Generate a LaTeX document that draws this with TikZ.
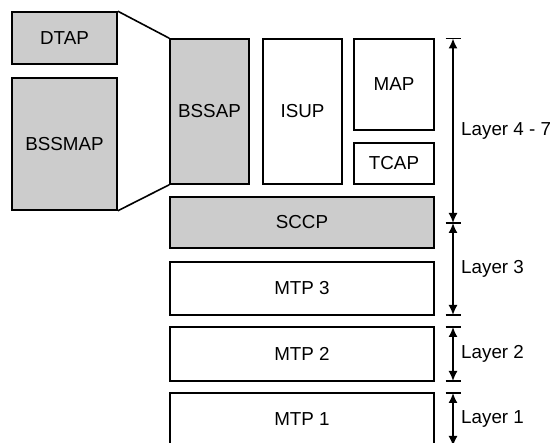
\documentclass[tikz,border=0pt]{standalone}
\usepackage{fontspec}
\setmainfont{Liberation Sans}
\usetikzlibrary{arrows.meta}
\definecolor{boxgray}{RGB}{204,204,204}
\begin{document}
\begin{tikzpicture}[x=1pt,y=-1pt,
  blk/.style={draw, line width=1.6pt, inner sep=0pt, anchor=center,
    font=\fontsize{18.8}{21}\selectfont},
  shaded/.style={blk, fill=boxgray},
  plain/.style={blk, fill=white},
  span/.style={line width=1.6pt,
    {Latex[length=10pt,width=9pt]}-{Latex[length=10pt,width=9pt]}},
  tickmark/.style={line width=1.6pt},
  link/.style={line width=1.6pt},
  lbl/.style={anchor=west, inner sep=0pt, font=\fontsize{18.8}{21}\selectfont}]
% page frame
\clip (0,0) rectangle (550,443);
\fill[white] (0,0) rectangle (550,443);

% BSSAP sub-protocols
\node[shaded, minimum width=105pt, minimum height=52pt]  (dtap)   at (64.5,38)   {DTAP};
\node[shaded, minimum width=105pt, minimum height=132pt] (bssmap) at (64.5,144)  {BSSMAP};

% upper layers
\node[shaded, minimum width=79pt, minimum height=145pt] (bssap) at (209.5,111.5) {BSSAP};
\node[plain,  minimum width=79pt, minimum height=145pt] (isup)  at (302.5,111.5) {ISUP};
\node[plain,  minimum width=80pt, minimum height=91pt]  (map)   at (394,84.5)    {MAP};
\node[plain,  minimum width=80pt, minimum height=41pt]  (tcap)  at (394,163.5)   {TCAP};

% lower layers
\node[shaded, minimum width=264pt, minimum height=51pt] (sccp) at (302,222.5) {SCCP};
\node[plain,  minimum width=264pt, minimum height=53pt] (mtp3) at (302,288.5) {MTP 3};
\node[plain,  minimum width=264pt, minimum height=54pt] (mtp2) at (302,354)   {MTP 2};
\node[plain,  minimum width=264pt, minimum height=53pt] (mtp1) at (302,419.5) {MTP 1};

% BSSAP expansion lines
\draw[link] (dtap.north east) -- (bssap.north west);
\draw[link] (bssmap.south east) -- (bssap.south west);

% layer boundaries
\coordinate (b0) at (453,38.5);
\coordinate (b1) at (453,223);
\coordinate (b2) at (453,315);
\coordinate (b3) at (453,327);
\coordinate (b4) at (453,381);
\coordinate (b5) at (453,393);
\coordinate (b6) at (453,446);
\foreach \b in {b0,b1,b2,b3,b4,b5,b6}
  \draw[tickmark] ([xshift=-7.5pt]\b) -- ([xshift=7.5pt]\b);

\draw[span] (b0) -- (b1);
\draw[span] (b1) -- (b2);
\draw[span] (b3) -- (b4);
\draw[span] (b5) -- (b6);

\node[lbl] (l47) at (461,130.5) {Layer 4 - 7};
\node[lbl] (l3)  at (461,269)   {Layer 3};
\node[lbl] (l2)  at (461,354)   {Layer 2};
\node[lbl] (l1)  at (461,419)   {Layer 1};
\end{tikzpicture}
\end{document}
